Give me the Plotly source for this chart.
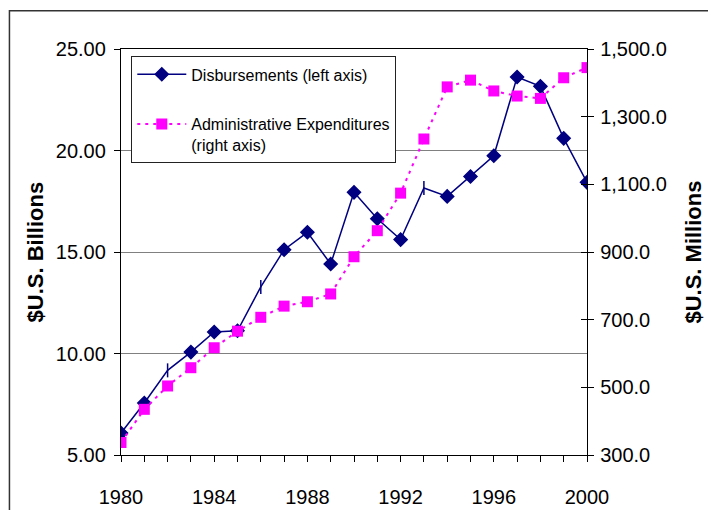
import plotly.graph_objects as go

years = list(range(1980, 2001))
disbursements = [6.08, 7.56, 9.17, 10.07, 11.06, 11.12, 13.28, 15.11, 15.97, 14.41,
                 17.94, 16.64, 15.61, 18.15, 17.74, 18.72, 19.74, 23.62, 23.16, 20.60, 18.43]
admin_exp = [337, 435, 504, 558, 617, 666, 707, 740, 753, 776,
             886, 963, 1074, 1234, 1388, 1408, 1376, 1361, 1354, 1415, 1445]
disb_symbols = ["diamond"] * len(years)
for y in (1982, 1986, 1993):
    disb_symbols[years.index(y)] = "line-ns-open"

left_ticks = [5, 10, 15, 20, 25]
right_ticks = [300, 500, 700, 900, 1100, 1300, 1500]
x_label_years = [1980, 1984, 1988, 1992, 1996, 2000]

FONT = "Liberation Sans, Arial, sans-serif"
W, H = 716, 510
OFF = 8  # page body margin offset
L, R, T, B = 120.7 - OFF, 587.3 - OFF, 49.3 - OFF, 455.5 - OFF
pw, ph = R - L, B - T

def px(x):
    return (x - OFF - L) / pw

def py(y):
    return (B - (y - OFF)) / ph

fig = go.Figure()
fig.add_trace(go.Scatter(
    x=years, y=disbursements, name="Disbursements (left axis)",
    mode="lines+markers", legendgroup="a",
    line=dict(color="#000080", width=1.5),
    marker=dict(symbol=disb_symbols, size=10, color="#000080",
                line=dict(color="#000080", width=1.5)),
    yaxis="y"))
fig.add_trace(go.Scatter(
    x=years, y=admin_exp, name="Administrative Expenditures<br>(right axis)",
    mode="lines+markers", legendgroup="b",
    line=dict(color="#FF00FF", width=2, dash="3px,5px"),
    marker=dict(symbol="square", size=11, color="#FF00FF"),
    yaxis="y2"))

fig.update_layout(
    width=W, height=H, autosize=False,
    margin=dict(l=L, r=W - R, t=T, b=H - B, pad=0, autoexpand=False),
    paper_bgcolor="white", plot_bgcolor="white",
    font=dict(family=FONT, color="black", size=20),
    showlegend=True,
    legend=dict(x=px(131), y=py(56.7), xanchor="left", yanchor="top",
                bgcolor="white", bordercolor="#222222", borderwidth=1,
                font=dict(size=16, family=FONT), traceorder="grouped",
                tracegroupgap=26, valign="top", itemwidth=49),
    xaxis=dict(range=[1980, 2000], tickvals=x_label_years, automargin=False,
               ticks="outside", ticklen=6, tickcolor="black", tickwidth=1,
               minor=dict(tickvals=years, ticks="outside", ticklen=6,
                          tickcolor="black", tickwidth=1, showgrid=False),
               showline=True, linecolor="black", linewidth=1.3, mirror=True,
               showgrid=False, zeroline=False, ticklabelstandoff=18,
               tickfont=dict(size=20)),
    yaxis=dict(range=[5, 25], tickvals=left_ticks, tickformat=".2f",
               automargin=False,
               ticks="outside", ticklen=6, tickcolor="black",
               showline=True, linecolor="black", linewidth=1.3,
               showgrid=True, gridcolor="#808080", gridwidth=1.3,
               zeroline=False, ticklabelstandoff=4, tickfont=dict(size=20)),
    yaxis2=dict(range=[300, 1500], tickvals=right_ticks, tickformat=",.1f",
                overlaying="y", side="right", automargin=False,
                ticks="outside", ticklen=6, tickcolor="black",
                showline=True, linecolor="black", linewidth=1.3,
                showgrid=False, zeroline=False, ticklabelstandoff=2,
                tickfont=dict(size=20)),
    yaxis3=dict(range=[300, 1500], tickvals=right_ticks, overlaying="y",
                side="right", ticks="inside", ticklen=6, tickcolor="black",
                automargin=False,
                showticklabels=False, showline=False, showgrid=False,
                zeroline=False),
)
# invisible trace to activate yaxis3 (inside tick marks for right axis)
fig.add_trace(go.Scatter(x=[years[0]], y=[right_ticks[0]], yaxis="y3",
                         mode="markers", marker=dict(opacity=0),
                         showlegend=False, hoverinfo="skip"))

fig.add_annotation(text="<b>$U.S. Billions</b>", xref="paper", yref="paper",
                   x=px(35), y=0.5, xanchor="center", yanchor="middle",
                   textangle=-90, showarrow=False, font=dict(size=22, family=FONT))
fig.add_annotation(text="<b>$U.S. Millions</b>", xref="paper", yref="paper",
                   x=px(693), y=0.5, xanchor="center", yanchor="middle",
                   textangle=-90, showarrow=False, font=dict(size=22, family=FONT))

fig.add_shape(type="rect", xref="paper", yref="paper",
              x0=px(9), x1=px(740), y0=py(540), y1=py(11),
              line=dict(color="#333333", width=1.5), fillcolor="rgba(0,0,0,0)",
              layer="below")

fig.write_html("out.html")
